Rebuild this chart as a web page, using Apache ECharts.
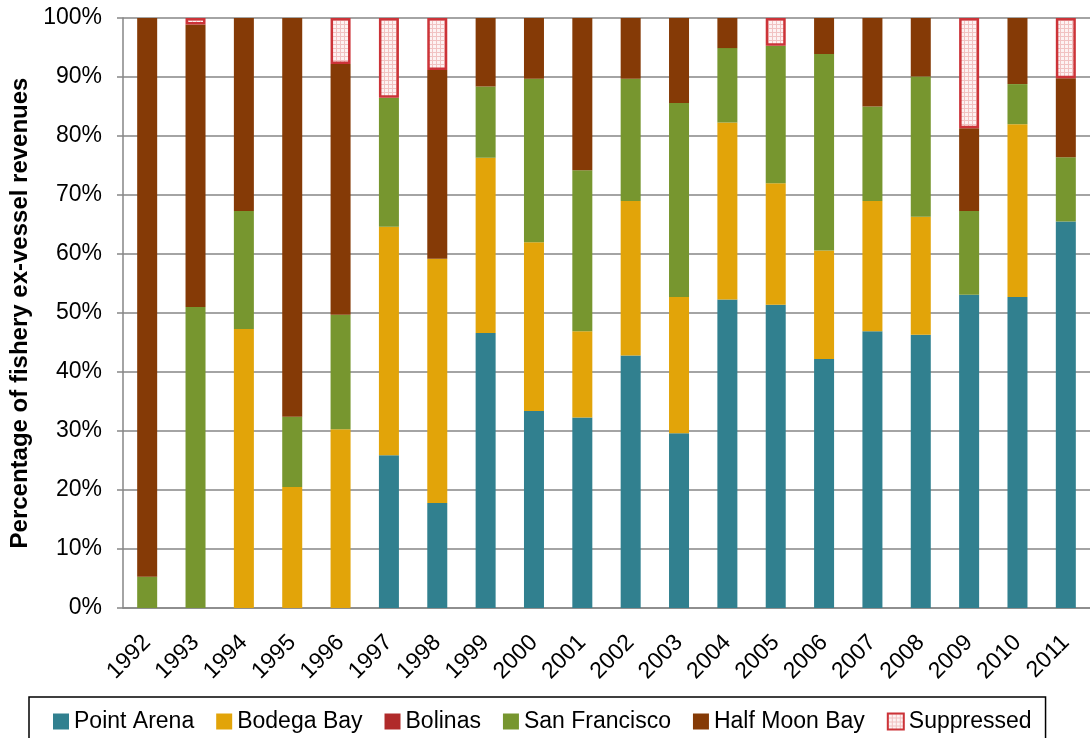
<!DOCTYPE html>
<html>
<head>
<meta charset="utf-8">
<script src="https://cdn.jsdelivr.net/npm/echarts@6/dist/echarts.min.js"></script>
<style>
  html, body { margin: 0; padding: 0; background: #fff; }
  #chart { width: 1090px; height: 738px; }
</style>
</head>
<body>
<div id="chart"></div>
<script>
// Share of fishery ex-vessel revenues by port, per year (percent)
const years = ['1992','1993','1994','1995','1996','1997','1998','1999','2000','2001',
               '2002','2003','2004','2005','2006','2007','2008','2009','2010','2011'];

const pointArena   = [null, null, null, null, null, 25.9, 17.8, 46.6, 33.4, 32.3,
                      42.8, 29.6, 52.3, 51.4, 42.2, 46.9, 46.3, 53.1, 52.7, 65.5];
const bodegaBay    = [null, null, 47.3, 20.5, 30.3, 38.7, 41.4, 29.7, 28.6, 14.6,
                      26.2, 23.1, 30.0, 20.6, 18.4, 22.1, 20.0, null, 29.3, null];
const bolinas      = [null, null, null, null, null, null, null, null, null, null,
                      null, null, null, null, null, null, null, null, null, null];
const sanFrancisco = [5.3, 51.0, 20.0, 11.9, 19.4, 21.9, null, 12.1, 27.7, 27.3,
                      20.7, 32.9, 12.6, 23.3, 33.3, 16.0, 23.8, 14.2, 6.8, 10.9];
const halfMoonBay  = [94.7, 47.9, 32.7, 67.6, 42.5, null, 32.0, 11.6, 10.3, 25.8,
                      10.3, 14.4, 5.1, null, 6.1, 15.0, 9.9, 14.0, 11.2, 13.4];
const suppressed   = [null, 1.1, null, null, 7.8, 13.5, 8.8, null, null, null,
                      null, null, null, 4.7, null, null, null, 18.7, null, 10.2];

const FONT = 'Arial, "Liberation Sans", sans-serif';
const GRAY = '#868686';

// Small tiled fill used for the suppressed segments
function gridFill() {
  const c = document.createElement('canvas');
  c.width = 4; c.height = 4;
  const g = c.getContext('2d');
  g.fillStyle = '#fdf2f2';
  g.fillRect(0, 0, 4, 4);
  g.fillStyle = '#f1c2c2';
  g.fillRect(0, 0, 4, 1);
  g.fillRect(0, 0, 1, 4);
  return { image: c, repeat: 'repeat' };
}

function seg(name, data, color, extra) {
  return Object.assign({
    name: name,
    type: 'bar',
    stack: 'share',
    barWidth: 20,
    data: data,
    itemStyle: { color: color },
    emphasis: { disabled: true }
  }, extra || {});
}

const chart = echarts.init(document.getElementById('chart'), null, { renderer: 'canvas' });
chart.setOption({
  animation: false,
  backgroundColor: '#fff',
  textStyle: { fontFamily: FONT },
  grid: { left: 123, top: 18, width: 972, height: 590, containLabel: false },
  legend: {
    left: 29,
    top: 697,
    padding: [13, 14, 14, 24],
    borderColor: '#000',
    borderWidth: 1.5,
    backgroundColor: '#fff',
    itemWidth: 16,
    itemHeight: 16,
    itemGap: 22,
    icon: 'rect',
    textStyle: { fontSize: 23, color: '#000', fontFamily: FONT },
    data: ['Point Arena', 'Bodega Bay', 'Bolinas', 'San Francisco', 'Half Moon Bay', 'Suppressed']
  },
  xAxis: {
    type: 'category',
    data: years,
    axisLine: { lineStyle: { color: GRAY, width: 1.5 } },
    axisTick: { length: 7, lineStyle: { color: GRAY, width: 1.5 } },
    axisLabel: { rotate: 45, fontSize: 23, color: '#000', margin: 31, fontFamily: FONT, interval: 0 }
  },
  yAxis: {
    type: 'value',
    min: 0,
    max: 100,
    interval: 10,
    name: 'Percentage of fishery ex-vessel revenues',
    nameLocation: 'middle',
    nameGap: 91,
    nameTextStyle: { fontSize: 24, fontWeight: 'bold', color: '#000', fontFamily: FONT },
    axisLine: { show: true, lineStyle: { color: GRAY, width: 1.5 } },
    axisTick: { show: true, length: 6, lineStyle: { color: GRAY, width: 1.5 } },
    splitLine: { lineStyle: { color: GRAY, width: 1.5 } },
    axisLabel: { formatter: '{value}%', fontSize: 23, color: '#000', margin: 21, fontFamily: FONT }
  },
  series: [
    seg('Point Arena', pointArena, '#31808f'),
    seg('Bodega Bay', bodegaBay, '#e2a409'),
    seg('Bolinas', bolinas, '#b02a2a'),
    seg('San Francisco', sanFrancisco, '#77962f'),
    seg('Half Moon Bay', halfMoonBay, '#853a06'),
    seg('Suppressed', suppressed, gridFill(), {
      itemStyle: { color: gridFill(), borderColor: '#cc3338', borderWidth: 2.5 }
    })
  ]
});
</script>
</body>
</html>
